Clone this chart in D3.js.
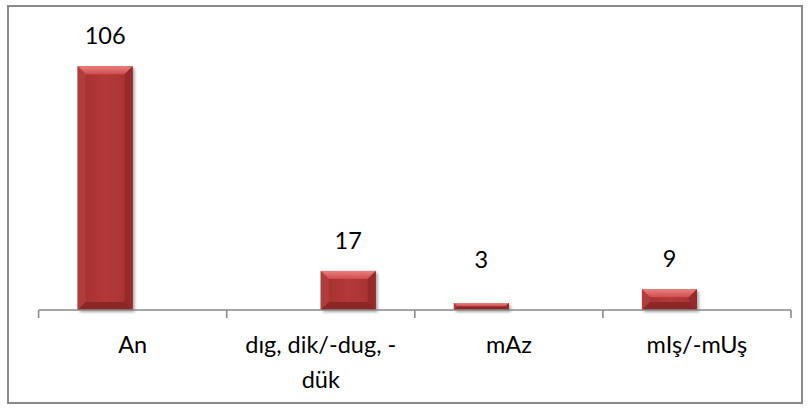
<!DOCTYPE html>
<html>
<head>
<meta charset="utf-8">
<script src="https://cdn.jsdelivr.net/npm/d3@7"></script>
<style>
  html, body { margin: 0; padding: 0; background: #fff; }
  svg { display: block; }
  text { font-family: Lato, "Open Sans", "Liberation Sans", sans-serif; fill: #000; }
</style>
</head>
<body>
<svg id="chart" width="808" height="408"></svg>
<script>
// Categories along the x axis
const categories = ["An", "dıg, dik/-dug, -dük", "mAz", "mIş/-mUş"];
// Two series: the second one only carries the "dıg, dik" count
const seriesNames = ["s1", "s2"];
const seriesA = [106, null, 3, 9];
const seriesB = [null, 17, null, null];
const yMax = 120;

const FONT = 23.5;
const svg = d3.select("#chart");

const defs = svg.append("defs");
const body = defs.append("linearGradient").attr("id", "barBody")
  .attr("x1", "0").attr("x2", "1").attr("y1", "0").attr("y2", "0");
body.append("stop").attr("offset", "0").attr("stop-color", "#a32e2e");
body.append("stop").attr("offset", "0.5").attr("stop-color", "#b43939");
body.append("stop").attr("offset", "1").attr("stop-color", "#a53232");
const topBevel = defs.append("linearGradient").attr("id", "topBevel")
  .attr("x1", "0").attr("x2", "0").attr("y1", "0").attr("y2", "1");
topBevel.append("stop").attr("offset", "0").attr("stop-color", "#ea8080");
topBevel.append("stop").attr("offset", "1").attr("stop-color", "#d04c4c");
const shadow = defs.append("filter").attr("id", "shadow")
  .attr("x", "-20%").attr("y", "-20%").attr("width", "140%").attr("height", "140%");
shadow.append("feGaussianBlur").attr("stdDeviation", 1.5);

// Outer frame
svg.append("rect")
  .attr("x", 8).attr("y", 6).attr("width", 794).attr("height", 397)
  .attr("fill", "#fff").attr("stroke", "#8a8a8a").attr("stroke-width", 2);

// Scales
const x = d3.scaleBand().domain(categories).range([38.6, 791]).paddingInner(0).paddingOuter(0);
const xSub = d3.scaleBand().domain(seriesNames).range([-55, 55]);
const y = d3.scaleLinear().domain([0, yMax]).range([310, 34]);

// Flatten into bar records
const bars = [];
categories.forEach((c, i) => {
  [seriesA, seriesB].forEach((s, k) => {
    if (s[i] != null) bars.push({ cat: c, series: seriesNames[k], value: s[i] });
  });
});

const gBars = svg.append("g");
bars.forEach(d => {
  const x0 = x(d.cat) + x.bandwidth() / 2 + xSub(d.series);
  const w = xSub.bandwidth();
  const x1 = x0 + w;
  const y0 = y(d.value), y1 = y(0);
  const h = y1 - y0;
  const b = Math.min(8, h / 2, w / 2);
  const g = gBars.append("g");
  // soft drop shadow
  g.append("rect").attr("x", x0 + 2).attr("y", y0 + 2).attr("width", w).attr("height", h)
    .attr("fill", "#000").attr("opacity", 0.35).attr("filter", "url(#shadow)");
  g.append("rect").attr("x", x0).attr("y", y0).attr("width", w).attr("height", h)
    .attr("fill", "url(#barBody)");
  // bevel edges
  const poly = (pts, fill) => g.append("polygon")
    .attr("points", pts.map(p => p.join(",")).join(" ")).attr("fill", fill);
  poly([[x0, y0], [x1, y0], [x1 - b, y0 + b], [x0 + b, y0 + b]], "url(#topBevel)");
  poly([[x0, y0], [x0 + b, y0 + b], [x0 + b, y1 - b], [x0, y1]], "#b13c3c");
  poly([[x1, y0], [x1, y1], [x1 - b, y1 - b], [x1 - b, y0 + b]], "#962a2a");
  poly([[x0, y1], [x0 + b, y1 - b], [x1 - b, y1 - b], [x1, y1]], "#8c2727");
  // value label above the bar, kept clear of the axis labels area
  gBars.append("text")
    .attr("x", x0 + w / 2)
    .attr("y", Math.min(y0 - 22, y(0) - 42))
    .attr("text-anchor", "middle")
    .attr("font-size", FONT)
    .text(d.value);
});

// X axis line with boundary ticks
const axisG = svg.append("g");
axisG.append("line").attr("x1", 38.6).attr("x2", 791).attr("y1", 310).attr("y2", 310)
  .attr("stroke", "#8a8a8a").attr("stroke-width", 1.6);
const bounds = categories.map(c => x(c)).concat([x(categories[categories.length - 1]) + x.bandwidth()]);
axisG.selectAll("line.tick").data(bounds).join("line").attr("class", "tick")
  .attr("x1", d => d).attr("x2", d => d).attr("y1", 310).attr("y2", 318)
  .attr("stroke", "#8a8a8a").attr("stroke-width", 1.6);

// Category labels, wrapped after spaces or hyphens when wider than the band
const labelG = axisG.append("g");
categories.forEach(c => {
  const t = labelG.append("text")
    .attr("x", x(c) + x.bandwidth() / 2).attr("y", 353)
    .attr("text-anchor", "middle").attr("font-size", FONT);
  const tokens = c.match(/[^\s-]*[\s-]*/g).filter(s => s.length);
  const maxW = x.bandwidth() - 8;
  const lines = [];
  let cur = "";
  const probe = labelG.append("text").attr("font-size", FONT).attr("opacity", 0);
  tokens.forEach(tok => {
    const trial = cur + tok;
    probe.text(trial.trim());
    if (cur && probe.node().getComputedTextLength() > maxW) {
      lines.push(cur.trimEnd());
      cur = tok;
    } else cur = trial;
  });
  if (cur) lines.push(cur.trimEnd());
  probe.remove();
  lines.forEach((ln, i) => {
    t.append("tspan").attr("x", x(c) + x.bandwidth() / 2).attr("dy", i === 0 ? 0 : 35).text(ln);
  });
});
</script>
</body>
</html>
